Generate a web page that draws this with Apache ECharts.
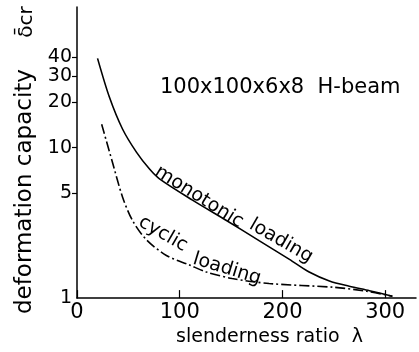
<!DOCTYPE html>
<html>
<head>
<meta charset="utf-8">
<script src="https://cdn.jsdelivr.net/npm/echarts@6/dist/echarts.min.js"></script>
<style>
	html, body { margin: 0; padding: 0; background: #fff; }
	#chart { width: 419px; height: 352px; }
</style>
</head>
<body>
<div id="chart"></div>
<script>
	// values
	var monotonicLambda = [20, 31.6, 44.3, 58, 70.6, 80.3, 112.4, 145.5, 177.6, 206.8, 226, 245.7, 265, 284.7, 307];
	var monotonicValue = [39.2, 21.6, 13.3, 9.3, 7.2, 6.2, 4.48, 3.28, 2.4, 1.81, 1.49, 1.3, 1.2, 1.12, 1.03];
	var cyclicLambda = [24, 34.5, 44.3, 54, 67.6, 87, 109.5, 126, 151, 187, 250, 282, 307];
	var cyclicValue = [14.3, 8.0, 4.7, 3.28, 2.44, 1.92, 1.66, 1.49, 1.35, 1.25, 1.18, 1.11, 1.03];
	var xTicks = [0, 100, 200, 300];
	var yTicks = [1, 5, 10, 20, 30, 40];
	var yTickMarks = [5, 10, 20, 30, 40];

	var font = 'DejaVu Sans';

	function pairs(xs, ys){
		var arr = [];
		for(var i = 0; i < xs.length; i++)
			arr.push([xs[i], ys[i]]);
		return arr;
	}

	function label(text, x, y, deg){
		return {
			type: 'text', x: x, y: y, rotation: deg * Math.PI / 180,
			style: { text: text, font: '19px "DejaVu Sans"', fill: '#000', align: 'center', verticalAlign: 'middle' }
		};
	}

	var chart = echarts.init(document.getElementById('chart'));
	var option = {
		backgroundColor: '#fff',
		animation: false,
		textStyle: { fontFamily: font, color: '#000' },
		title: {
			text: '100x100x6x8  H-beam',
			left: 160,
			top: 77,
			padding: 0,
			textStyle: { fontFamily: font, fontSize: 21, fontWeight: 'normal', color: '#000' }
		},
		grid: { left: 77, right: 3, top: 7, bottom: 45 },
		xAxis: {
			type: 'value',
			min: 0,
			max: 330,
			name: 'slenderness ratio  λ',
			nameLocation: 'middle',
			nameGap: 22,
			nameTextStyle: { fontFamily: font, fontSize: 19, color: '#000', padding: [0, 0, 0, 46] },
			axisLine: { lineStyle: { color: '#000', width: 1.5 } },
			axisTick: { inside: true, length: 8, customValues: xTicks, lineStyle: { color: '#000', width: 1.2 } },
			axisLabel: { customValues: xTicks, fontSize: 21, color: '#000', margin: 4, fontFamily: font },
			splitLine: { show: false }
		},
		yAxis: {
			type: 'log',
			min: 1,
			max: 86,
			name: 'deformation capacity',
			nameLocation: 'middle',
			nameRotate: 90,
			nameGap: 34,
			nameTextStyle: { fontFamily: font, fontSize: 23, color: '#000', padding: [0, 78, 0, 0] },
			axisLine: { lineStyle: { color: '#000', width: 1.5 } },
			axisTick: { length: 5, customValues: yTickMarks, lineStyle: { color: '#000', width: 1.2 } },
			axisLabel: { customValues: yTicks, hideOverlap: false, fontSize: 19, color: '#000', margin: 5, fontFamily: font },
			splitLine: { show: false },
			minorTick: { show: false }
		},
		graphic: [
			{ type: 'text', x: 27, y: 22, rotation: Math.PI / 2,
				style: { text: 'δ̄cr', font: '20px "DejaVu Sans"', fill: '#000', align: 'center', verticalAlign: 'middle' } },
			label('monotonic', 199, 197, -32),
			label('loading', 281, 241, -30),
			label('cyclic', 163, 234, -30),
			label('loading', 227, 269, -17)
		],
		series: [
			{
				name: 'monotonic loading',
				type: 'line',
				data: pairs(monotonicLambda, monotonicValue),
				smooth: 0.3,
				showSymbol: false,
				lineStyle: { color: '#000', width: 1.6 }
			},
			{
				name: 'cyclic loading',
				type: 'line',
				data: pairs(cyclicLambda, cyclicValue),
				smooth: 0.3,
				showSymbol: false,
				lineStyle: { color: '#000', width: 1.6, type: [10, 3, 2, 3] }
			}
		]
	};
	chart.setOption(option);
</script>
</body>
</html>
